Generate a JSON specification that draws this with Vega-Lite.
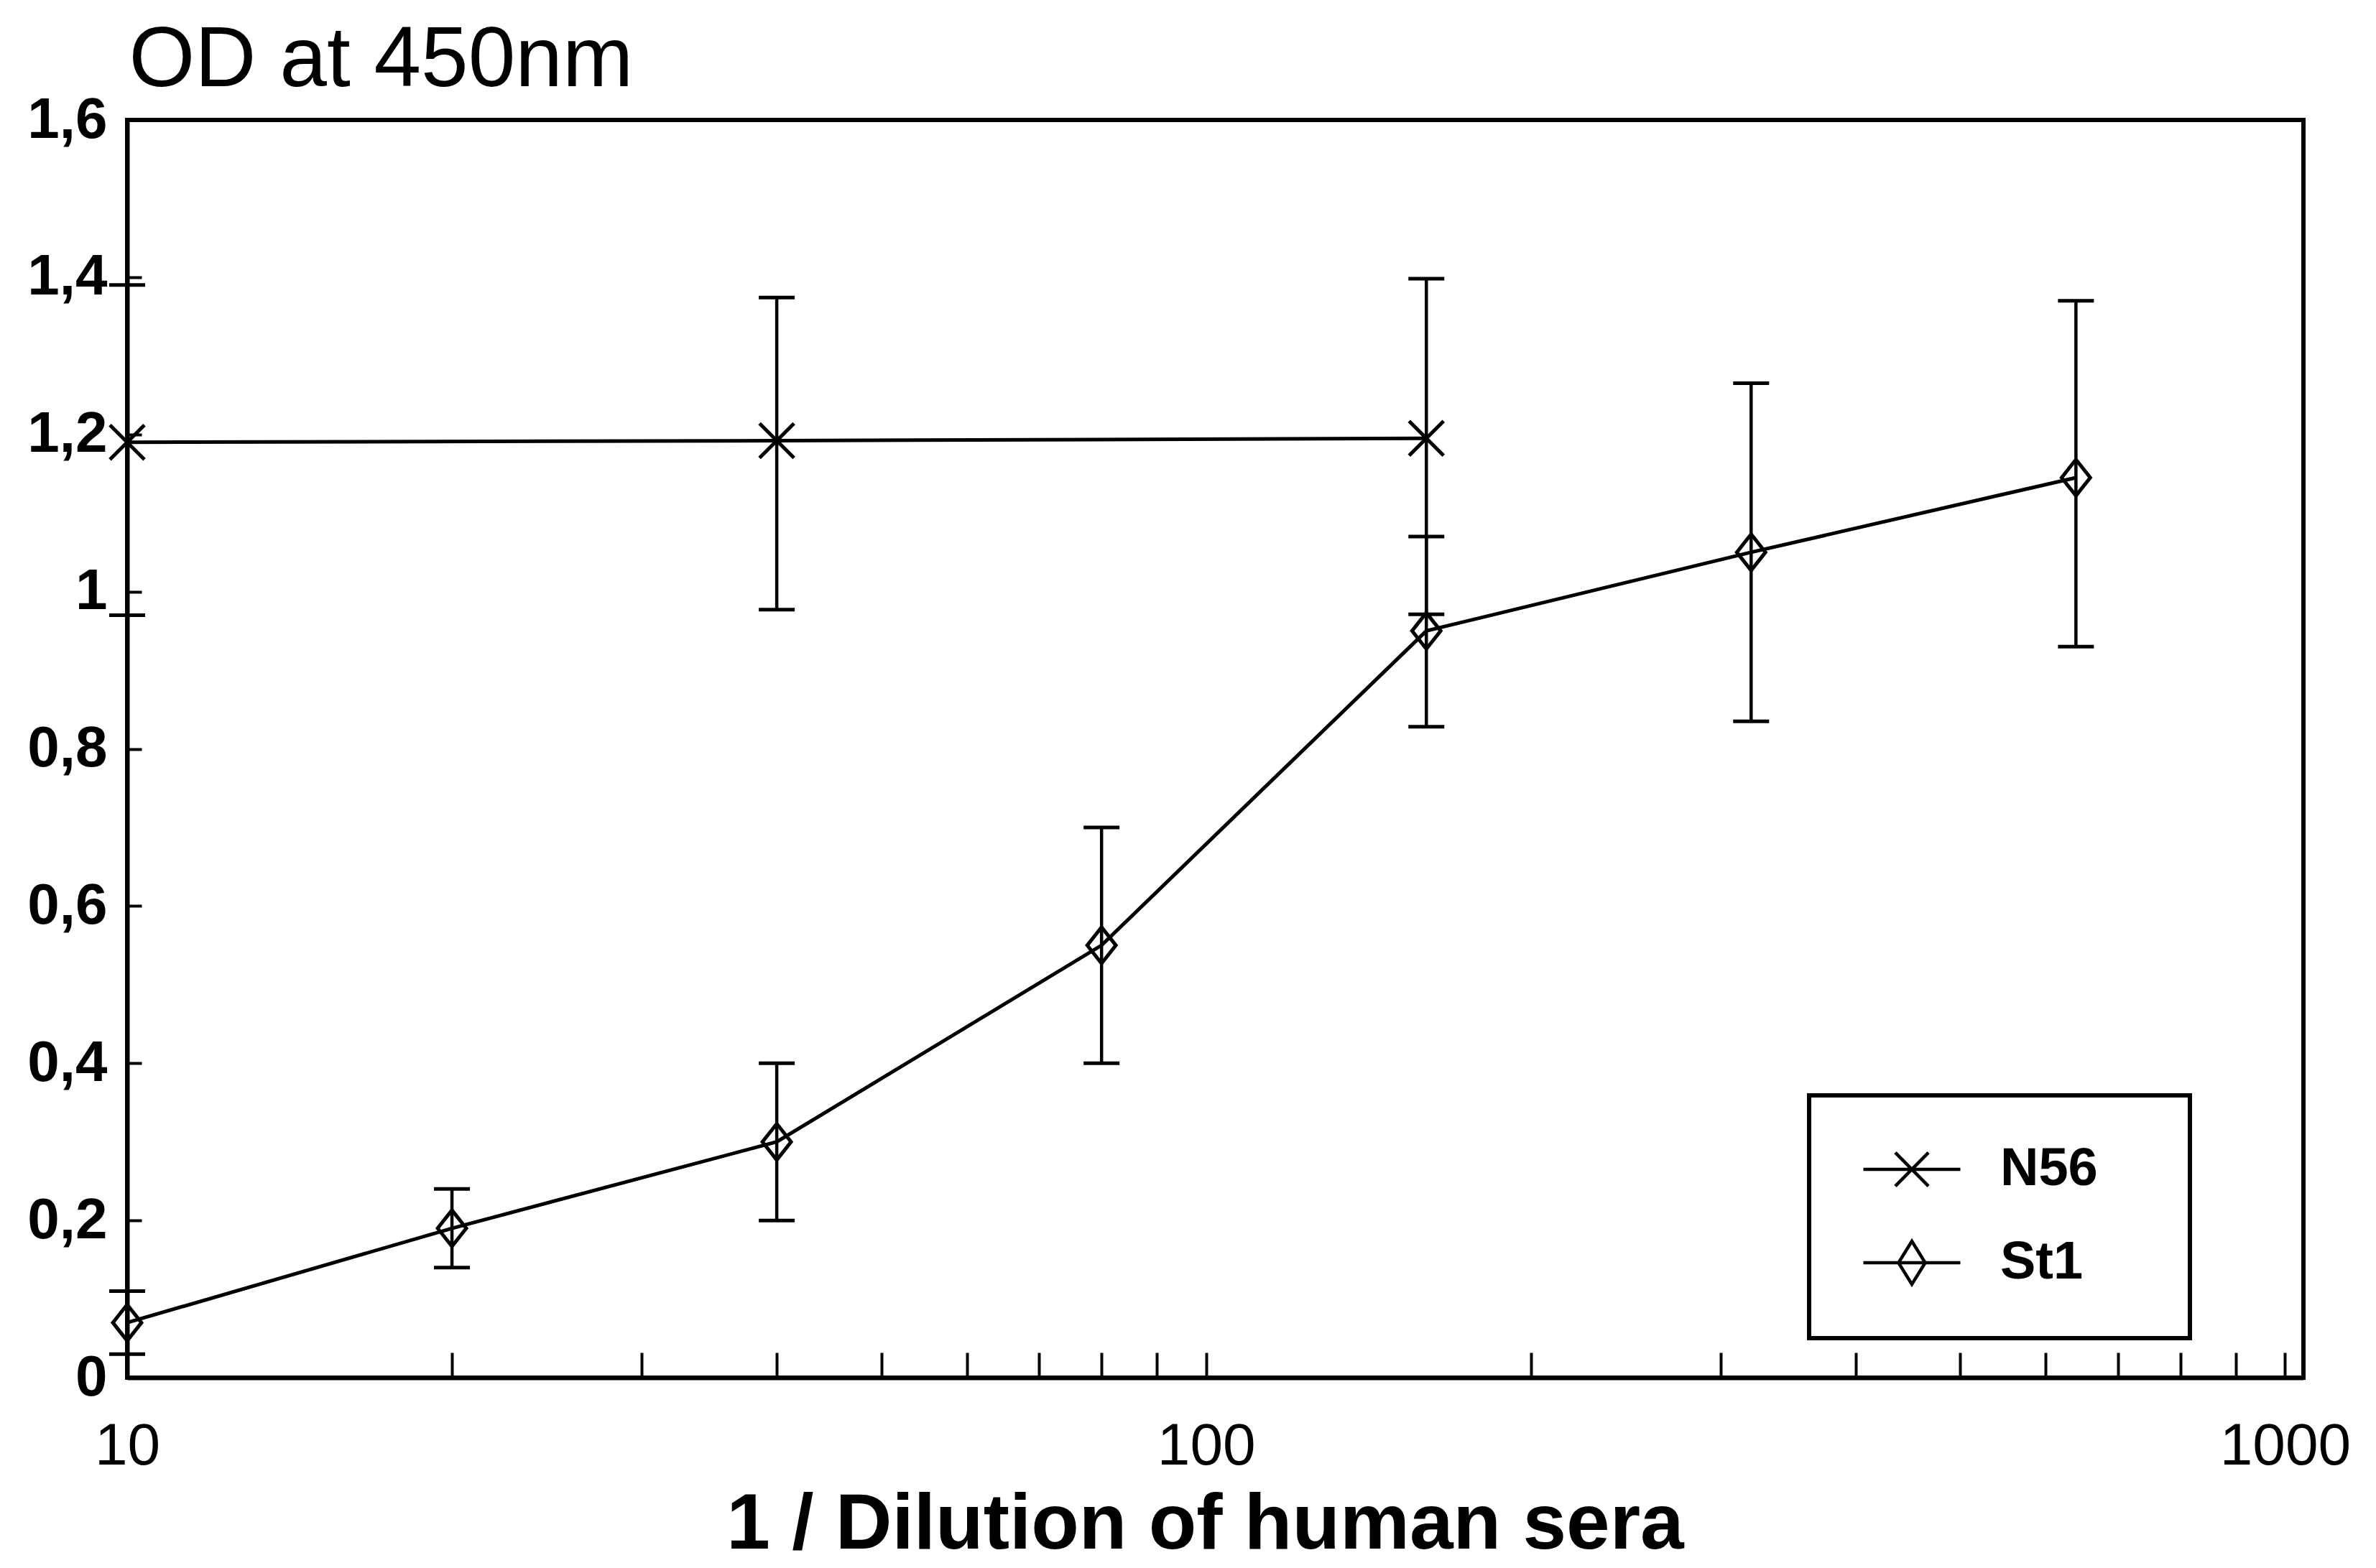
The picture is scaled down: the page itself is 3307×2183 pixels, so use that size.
{
  "$schema": "https://vega.github.io/schema/vega-lite/v6.json",
  "width": 3029,
  "height": 1751,
  "autosize": {"type": "none"},
  "padding": {"left": 177, "top": 167, "right": 101, "bottom": 265},
  "background": "white",
  "config": {
    "view": {"stroke": "black", "strokeWidth": 6},
    "font": "Liberation Sans",
    "axis": {"grid": false, "domainColor": "black", "domainWidth": 6, "tickColor": "black", "tickWidth": 4, "labelColor": "black", "titleColor": "black", "labelFont": "Liberation Sans", "titleFont": "Liberation Sans"}
  },
  "data": {
    "values": [
      {"series": "N56", "x": 10, "y": 1.19, "lo": 0.97, "hi": 1.39},
      {"series": "N56", "x": 40, "y": 1.192, "lo": 0.977, "hi": 1.374},
      {"series": "N56", "x": 160, "y": 1.195, "lo": 0.971, "hi": 1.398},
      {"series": "St1", "x": 10, "y": 0.07, "lo": 0.03, "hi": 0.11},
      {"series": "St1", "x": 20, "y": 0.19, "lo": 0.14, "hi": 0.24},
      {"series": "St1", "x": 40, "y": 0.30, "lo": 0.20, "hi": 0.40},
      {"series": "St1", "x": 80, "y": 0.55, "lo": 0.40, "hi": 0.70},
      {"series": "St1", "x": 160, "y": 0.95, "lo": 0.828, "hi": 1.07},
      {"series": "St1", "x": 320, "y": 1.05, "lo": 0.835, "hi": 1.265},
      {"series": "St1", "x": 640, "y": 1.145, "lo": 0.93, "hi": 1.37}
    ]
  },
  "resolve": {"scale": {"shape": "independent"}, "legend": {"shape": "independent"}},
  "layer": [
    {
      "mark": {"type": "line", "stroke": "black", "strokeWidth": 5},
      "encoding": {
        "x": {
          "field": "x", "type": "quantitative",
          "scale": {"type": "log", "domain": [10, 1040], "nice": false},
          "axis": {
            "title": "1 / Dilution of human sera",
            "values": [10, 20, 30, 40, 50, 60, 70, 80, 90, 100, 200, 300, 400, 500, 600, 700, 800, 900, 1000],
            "labelExpr": "(datum.value == 10 || datum.value == 100 || datum.value == 1000) ? format(datum.value, 'd') : ''",
            "tickSize": -35,
            "labelPadding": 155,
            "labelBaseline": "alphabetic",
            "labelFontSize": 82,
            "labelLimit": 1000,
            "labelFlush": false,
            "labelOverlap": false,
            "titleFontSize": 109,
            "titleFontWeight": "bold",
            "titleX": 1500,
            "titleY": 237,
            "titleBaseline": "alphabetic",
            "titleAlign": "center"
          }
        },
        "y": {
          "field": "y", "type": "quantitative",
          "scale": {"domain": [0, 1.6], "nice": false},
          "axis": {
            "title": "OD at 450nm",
            "values": [0, 0.2, 0.4, 0.6, 0.8, 1, 1.2, 1.4, 1.6],
            "labelExpr": "replace(format(datum.value, '.1~f'), '.', ',')",
            "tickSize": -20,
            "labelPadding": 48,
            "labelFontSize": 80,
            "labelFontWeight": "bold",
            "titleAngle": 0,
            "titleAlign": "left",
            "titleBaseline": "alphabetic",
            "titleX": 2,
            "titleY": -48,
            "titleFontSize": 118,
            "titleFontWeight": "normal"
          }
        },
        "detail": {"field": "series"}
      }
    },
    {
      "mark": {"type": "rule", "stroke": "black", "strokeWidth": 4.5},
      "encoding": {
        "x": {"field": "x", "type": "quantitative"},
        "y": {"field": "lo", "type": "quantitative"},
        "y2": {"field": "hi"}
      }
    },
    {
      "mark": {"type": "tick", "orient": "horizontal", "size": 50, "thickness": 5, "color": "black", "opacity": 1},
      "encoding": {
        "x": {"field": "x", "type": "quantitative"},
        "y": {"field": "lo", "type": "quantitative"}
      }
    },
    {
      "mark": {"type": "tick", "orient": "horizontal", "size": 50, "thickness": 5, "color": "black", "opacity": 1},
      "encoding": {
        "x": {"field": "x", "type": "quantitative"},
        "y": {"field": "hi", "type": "quantitative"}
      }
    },
    {
      "mark": {"type": "point", "filled": false, "size": 2304, "strokeWidth": 5, "color": "black", "opacity": 1},
      "encoding": {
        "x": {"field": "x", "type": "quantitative"},
        "y": {"field": "y", "type": "quantitative"},
        "shape": {
          "field": "series", "type": "nominal",
          "scale": {"domain": ["N56", "St1"], "range": ["M-1,-1L1,1M-1,1L1,-1", "M0,-1.05L0.83,0L0,1.05L-0.83,0Z"]},
          "legend": null
        }
      }
    },
    {
      "mark": {"type": "point", "filled": false, "size": 100, "strokeWidth": 1, "color": "black", "opacity": 0},
      "encoding": {
        "x": {"field": "x", "type": "quantitative"},
        "y": {"field": "y", "type": "quantitative"},
        "shape": {
          "field": "series", "type": "nominal",
          "scale": {"domain": ["N56", "St1"], "range": ["M-2.25,0L2.25,0M-0.77,-0.78L0.77,0.78M-0.77,0.78L0.77,-0.78", "M-2.25,0L2.25,0M0,-1L0.62,0L0,1L-0.62,0Z"]},
          "legend": {
            "orient": "none",
            "legendX": 2341,
            "legendY": 1358,
            "title": " ",
            "titleOrient": "right",
            "titleFontSize": 20,
            "titlePadding": 62,
            "padding": 66,
            "strokeColor": "black",
            "symbolSize": 3600,
            "symbolOffset": 40,
            "symbolOpacity": 1,
            "symbolStrokeColor": "black",
            "symbolStrokeWidth": 4.5,
            "symbolFillColor": "transparent",
            "labelOffset": 86,
            "rowPadding": 54,
            "labelFontSize": 74,
            "labelFontWeight": "bold",
            "labelFont": "Liberation Sans",
            "labelColor": "black",
            "labelLimit": 1000,
            "encoding": {
              "legend": {"strokeWidth": {"value": 6}}
            }
          }
        }
      }
    }
  ]
}
